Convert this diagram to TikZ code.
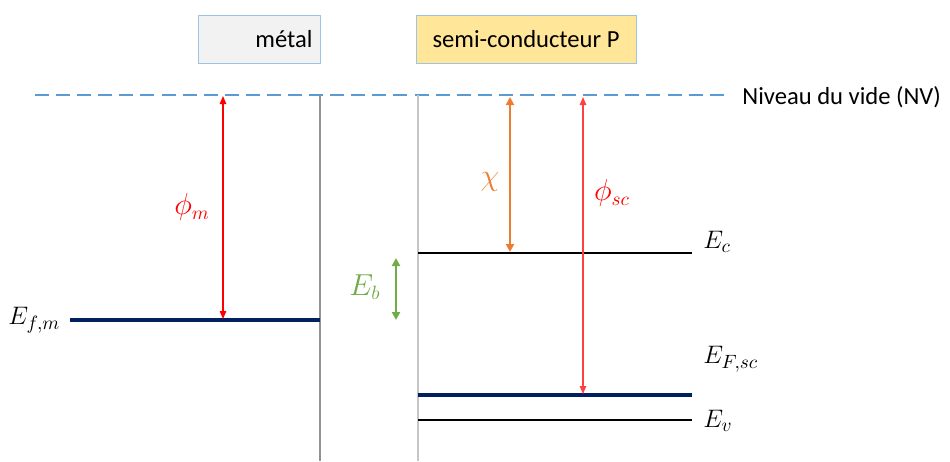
\documentclass[tikz,border=0pt]{standalone}
\usepackage{fontspec}
\setmainfont{Carlito}
\usetikzlibrary{arrows.meta}
\definecolor{nvblue}{RGB}{91,155,213}
\definecolor{navy}{RGB}{0,32,96}
\definecolor{chiorange}{RGB}{237,125,49}
\definecolor{ebgreen}{RGB}{112,173,71}
\definecolor{boxgray}{RGB}{242,242,242}
\definecolor{boxyellow}{RGB}{255,230,153}
\definecolor{boxedge}{RGB}{157,195,230}
\definecolor{phired}{RGB}{255,0,0}

\begin{document}
\begin{tikzpicture}[
    x=0.02cm, y=-0.02cm,
    >={Triangle[length=1.6mm, width=1.3mm]}, font=\fontsize{14}{17}\selectfont,
    matbox/.style={rectangle, draw=boxedge, line width=0.5pt,
                   minimum height=0.96cm, inner sep=0pt},
    vide/.style={draw=nvblue, dash pattern=on 8pt off 4pt, line width=0.9pt},
    iface/.style={line width=0.8pt},
    fermi/.style={draw=navy, line width=2.3pt},
    band/.style={draw=black, line width=0.9pt},
    lbl/.style={anchor=west, inner sep=0pt, font=\fontsize{15}{18}\selectfont},
    sym/.style={font=\fontsize{16}{19}\selectfont},
    arrr/.style={<->, color=phired, line width=0.7pt},
  ]
    \useasboundingbox (0,0) rectangle (950,461);

    % boites des materiaux
    \node[matbox, fill=boxgray, minimum width=2.44cm, text width=2.14cm, align=right]
         (metal) at (259,39) {métal};
    \node[matbox, fill=boxyellow, minimum width=4.4cm] (semi) at (526,39) {semi-conducteur P};

    % niveau du vide
    \coordinate (nvL) at (35,95);
    \coordinate (nvR) at (725,95);
    \draw[vide] (nvL) -- (nvR);
    \node[anchor=west, inner sep=0pt] (nv) at (742,97) {Niveau du vide (NV)};

    % interfaces
    \coordinate (mtop) at (320,95);
    \coordinate (mbot) at (320,461);
    \coordinate (stop) at (418,95);
    \coordinate (sbot) at (418,461);
    \draw[iface, gray!85] (mtop) -- (mbot);
    \draw[iface, gray!45] (stop) -- (sbot);

    % niveaux d'energie
    \coordinate (efmL) at (70,320);
    \coordinate (efmR) at (320,320);
    \coordinate (ecL)  at (418,253);
    \coordinate (ecR)  at (692,253);
    \coordinate (efsL) at (418,395);
    \coordinate (efsR) at (692,395);
    \coordinate (evL)  at (418,420);
    \coordinate (evR)  at (692,420);
    \draw[fermi] (efmL) -- (efmR);
    \draw[band]  (ecL) -- (ecR);
    \draw[fermi] (efsL) -- (efsR);
    \draw[band]  (evL) -- (evR);

    \node[lbl] (efm) at (8,320)  {$E_{f,m}$};
    \node[lbl] (ec)  at (703,242) {$E_c$};
    \node[lbl] (efs) at (703,359) {$E_{F,sc}$};
    \node[lbl] (ev)  at (703,421) {$E_v$};

    % fleches
    \coordinate (phimT) at (223,96);
    \coordinate (phimB) at (223,319);
    \coordinate (chiT)  at (510,97);
    \coordinate (chiB)  at (510,252);
    \coordinate (phisT) at (583,97);
    \coordinate (phisB) at (583,394);
    \coordinate (ebT)   at (396,258);
    \coordinate (ebB)   at (396,320);

    \draw[arrr] (phimT) -- (phimB);
    \draw[arrr, color=phired!75] (phisT) -- (phisB);
    \draw[<->, color=chiorange, line width=1.2pt,
          >={Triangle[length=1.6mm, width=1.6mm]}] (chiT) -- (chiB);
    \draw[<->, color=ebgreen, line width=1.2pt,
          >={Triangle[length=1.6mm, width=1.6mm]}] (ebT) -- (ebB);

    \node[sym, text=phired]    (phim) at (192,207) {$\phi_m$};
    \node[sym, text=chiorange] (chi)  at (490,182) {$\chi$};
    \node[sym, text=phired]    (phis) at (612,193) {$\phi_{sc}$};
    \node[sym, text=ebgreen]   (eb)   at (365,287) {$E_b$};
\end{tikzpicture}
\end{document}
